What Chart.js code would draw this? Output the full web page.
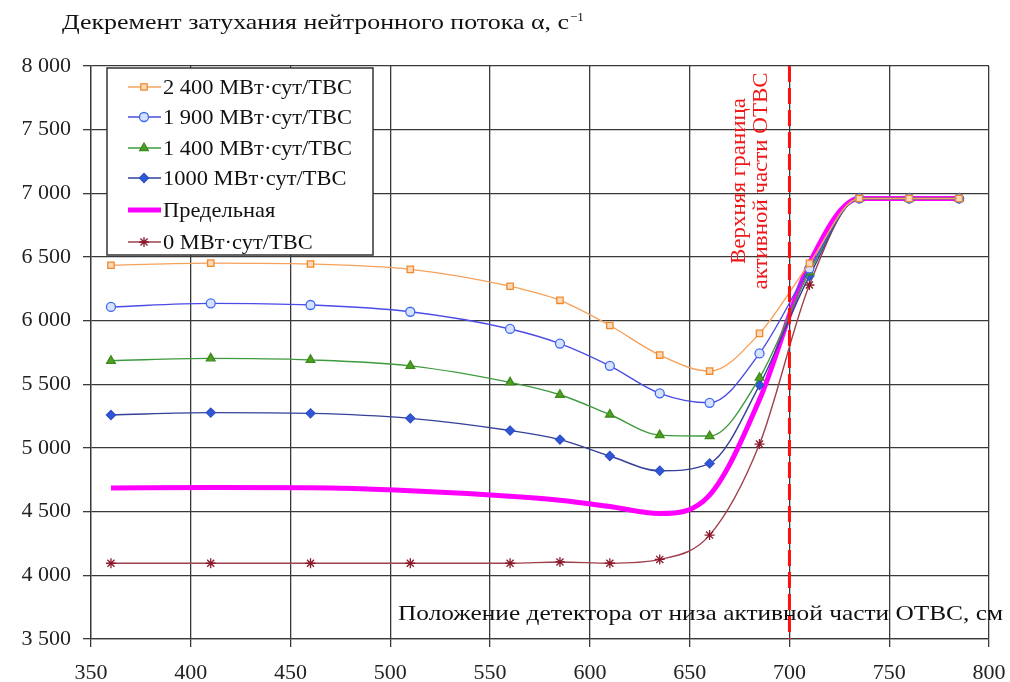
<!DOCTYPE html>
<html><head><meta charset="utf-8">
<script src="https://cdn.jsdelivr.net/npm/chart.js@4/dist/chart.umd.min.js"></script>
<style>html,body{margin:0;padding:0;background:#fff}canvas{display:block}</style>
</head><body>
<canvas id="c" width="1010" height="682"></canvas>
<script>
// ---- data ----
const xPositions = [360, 410, 460, 510, 560, 585, 610, 635, 660, 685, 710, 735, 760, 785];
const s2400 = [6435, 6452, 6445, 6403, 6270, 6160, 5962, 5730, 5604, 5900, 6450, 6960, 6960, 6960];
const s1900 = [6108, 6136, 6123, 6070, 5935, 5820, 5645, 5429, 5355, 5743, 6410, 6960, 6960, 6960];
const s1400 = [5685, 5704, 5692, 5645, 5515, 5418, 5263, 5101, 5094, 5552, 6380, 6960, 6960, 6960];
const s1000 = [5259, 5278, 5272, 5233, 5137, 5066, 4937, 4821, 4879, 5494, 6350, 6960, 6960, 6960];
const sLimit = [4685, 4690, 4688, 4665, 4622, 4590, 4540, 4485, 4630, 5380, 6450, 6960, 6960, 6960];
const s0 = [4095, 4095, 4095, 4095, 4095, 4105, 4095, 4125, 4316, 5031, 6280, 6960, 6960, 6960];
const seriesNames = ['2 400 МВт·сут/ТВС', '1 900 МВт·сут/ТВС', '1 400 МВт·сут/ТВС', '1000 МВт·сут/ТВС', 'Предельная', '0 МВт·сут/ТВС'];
const xTicks = [350, 400, 450, 500, 550, 600, 650, 700, 750, 800];
const yTicks = [3500, 4000, 4500, 5000, 5500, 6000, 6500, 7000, 7500, 8000];
const boundaryX = 700;
const yTitle = 'Декремент затухания нейтронного потока α, с';
const yTitleSup = '−1';
const xTitle = 'Положение детектора от низа активной части ОТВС, см';
const boundaryLabel1 = 'Верхняя граница';
const boundaryLabel2 = 'активной части ОТВС';

const SERIF = "'Liberation Serif', 'Times New Roman', serif";
const pts = arr => xPositions.map((x, i) => ({x: x, y: arr[i]}));

const styles = [
  {line: '#F5A25D', bg: '#FCD9B8', bd: '#F08A2C', ps: 'rect', r: 4.5, lw: 1.4},
  {line: '#4B4BE6', bg: '#D6E2FF', bd: '#3F6AF0', ps: 'circle', r: 4.5, lw: 1.4},
  {line: '#3E9A3E', bg: '#4FA01E', bd: '#3C8A1E', ps: 'triangle', r: 5, lw: 1.4},
  {line: '#34409A', bg: '#2F57D8', bd: '#2F4FC8', ps: 'rectRot', r: 4.5, lw: 1.4},
  {line: '#FF00FF', bg: '#FF00FF', bd: '#FF00FF', ps: false, r: 0, lw: 5},
  {line: '#A0404E', bg: '#8B1A2A', bd: '#8B1A2A', ps: 'star', r: 5, lw: 1.4}
];
const allSeries = [s2400, s1900, s1400, s1000, sLimit, s0];

const datasets = allSeries.map((s, i) => {
  const st = styles[i];
  return {
    label: seriesNames[i],
    data: pts(s),
    borderColor: st.line,
    borderWidth: st.lw,
    backgroundColor: st.bg,
    pointStyle: st.ps,
    pointRadius: st.r,
    pointBorderColor: st.bd,
    pointBackgroundColor: st.bg,
    pointBorderWidth: 1.3,
    cubicInterpolationMode: 'monotone',
    fill: false,
    order: i === 4 ? 10 : i
  };
});

function drawStretched(ctx, text, x, y, targetW, font, color) {
  ctx.save();
  ctx.font = font;
  const w = ctx.measureText(text).width;
  ctx.translate(x, y);
  ctx.scale(targetW / w, 1);
  ctx.fillStyle = color;
  ctx.textAlign = 'left';
  ctx.textBaseline = 'alphabetic';
  ctx.fillText(text, 0, 0);
  ctx.restore();
}

const decorPlugin = {
  id: 'decor',
  afterDatasetsDraw(chart) {
    const ctx = chart.ctx;
    const ca = chart.chartArea;
    const xs = chart.scales.x;
    const bx = xs.getPixelForValue(boundaryX);
    ctx.save();
    ctx.strokeStyle = '#FF1010';
    ctx.lineWidth = 3;
    ctx.setLineDash([16, 6]);
    ctx.beginPath();
    ctx.moveTo(bx, ca.top);
    ctx.lineTo(bx, ca.bottom);
    ctx.stroke();
    ctx.restore();
    ctx.save();
    ctx.font = '22px ' + SERIF;
    ctx.fillStyle = '#F01818';
    ctx.textAlign = 'center';
    ctx.textBaseline = 'alphabetic';
    ctx.translate(bx - 44, 181);
    ctx.rotate(-Math.PI / 2);
    let w1 = ctx.measureText(boundaryLabel1).width;
    ctx.save(); ctx.scale(166 / w1, 1); ctx.fillText(boundaryLabel1, 0, 0); ctx.restore();
    ctx.translate(0, 22);
    let w2 = ctx.measureText(boundaryLabel2).width;
    ctx.save(); ctx.scale(217 / w2, 1); ctx.fillText(boundaryLabel2, 0, 0); ctx.restore();
    ctx.restore();
  },
  afterDraw(chart) {
    const ctx = chart.ctx;
    drawStretched(ctx, yTitle, 62, 29, 507, '21px ' + SERIF, '#111');
    ctx.save();
    ctx.font = '13px ' + SERIF;
    ctx.fillStyle = '#111';
    ctx.fillText(yTitleSup, 570, 21);
    ctx.restore();
    drawStretched(ctx, xTitle, 398, 620, 605, '22px ' + SERIF, '#111');
    const bx0 = 107, by0 = 68, bw = 266, bh = 187;
    ctx.save();
    ctx.fillStyle = '#fff';
    ctx.fillRect(bx0, by0, bw, bh);
    ctx.strokeStyle = '#333';
    ctx.lineWidth = 1.5;
    ctx.strokeRect(bx0, by0, bw, bh);
    const rowY = [87, 117, 148, 178, 210, 242];
    ctx.font = '21px ' + SERIF;
    const sx = 189 / ctx.measureText(seriesNames[0]).width;
    const helpers = Chart.helpers;
    datasets.forEach((ds, i) => {
      const y = rowY[i];
      const st = styles[i];
      ctx.save();
      ctx.strokeStyle = st.line;
      ctx.lineWidth = st.lw;
      ctx.beginPath();
      ctx.moveTo(128, y);
      ctx.lineTo(161, y);
      ctx.stroke();
      ctx.restore();
      if (st.ps && helpers && helpers.drawPoint) {
        ctx.save();
        ctx.strokeStyle = st.bd;
        ctx.fillStyle = st.bg;
        ctx.lineWidth = 1.3;
        helpers.drawPoint(ctx, {pointStyle: st.ps, radius: st.r, rotation: 0, borderWidth: 1.3}, 144, y);
        ctx.restore();
      }
      ctx.save();
      ctx.translate(163, y + 7);
      ctx.scale(sx, 1);
      ctx.fillStyle = '#111';
      ctx.textBaseline = 'alphabetic';
      ctx.fillText(ds.label, 0, 0);
      ctx.restore();
    });
    ctx.restore();
  }
};

const fmt = v => String(v).replace(/\B(?=(\d{3})+(?!\d))/g, ' ');

new Chart(document.getElementById('c'), {
  type: 'line',
  data: {datasets: datasets},
  options: {
    responsive: false,
    devicePixelRatio: 1,
    animation: false,
    layout: {padding: {top: 66, right: 21, left: 0, bottom: 0}},
    plugins: {legend: {display: false}, tooltip: {enabled: false}, title: {display: false}},
    scales: {
      x: {
        type: 'linear',
        min: 350, max: 800,
        afterBuildTicks: s => { s.ticks = xTicks.map(v => ({value: v})); },
        afterFit: s => { s.height = 43; s.paddingLeft = 0; s.paddingRight = 0; },
        grid: {color: '#3a3a3a', lineWidth: 1.3, tickLength: 8, drawTicks: true},
        border: {color: '#3a3a3a', width: 1.3},
        ticks: {font: {family: SERIF, size: 22}, color: '#222', padding: 13, maxRotation: 0, callback: v => fmt(v)}
      },
      y: {
        type: 'linear',
        min: 3500, max: 8000,
        afterBuildTicks: s => { s.ticks = yTicks.map(v => ({value: v})); },
        afterFit: s => { s.width = 91; s.paddingTop = 0; s.paddingBottom = 0; },
        grid: {color: '#3a3a3a', lineWidth: 1.3, tickLength: 8},
        border: {color: '#3a3a3a', width: 1.3},
        ticks: {font: {family: SERIF, size: 22}, color: '#222', padding: 12, callback: v => fmt(v)}
      }
    }
  },
  plugins: [decorPlugin]
});
</script>
</body></html>
